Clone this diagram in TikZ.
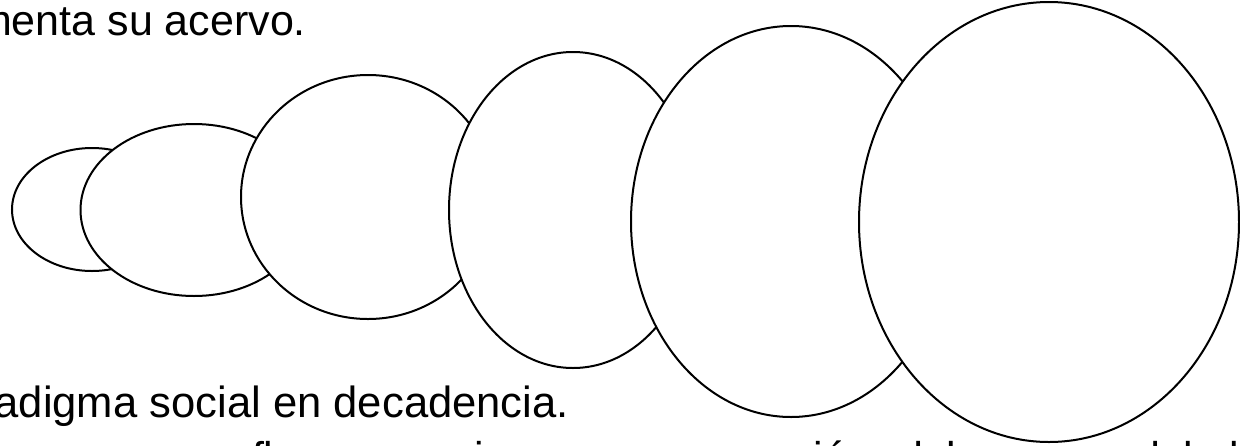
\documentclass[tikz,border=0pt]{standalone}
\usepackage{fontspec}
\setmainfont{Liberation Sans}
\usetikzlibrary{shapes.geometric}
\tikzset{
  bubble/.style={ellipse, draw=black, fill=white, line width=2pt, inner sep=0pt},
  slidetext/.style={inner sep=0pt, outer sep=0pt, font=\fontsize{43}{50}\selectfont, text=black},
  bigtext/.style={inner sep=0pt, outer sep=0pt, font=\fontsize{43.6}{50}\selectfont, text=black}
}
\begin{document}
\begin{tikzpicture}[x=1pt, y=-1pt]
\useasboundingbox (0,0) rectangle (1240,445);
\clip (0,0) rectangle (1240,445);
\fill[white] (0,0) rectangle (1240,445);
% texts
\node[slidetext, anchor=base east] (t1) at (306,35) {aumenta su acervo.};
\node[bigtext, anchor=base east] (t2) at (569,417) {paradigma social en decadencia.};
\node[slidetext, anchor=base west] (t3a) at (252,472) {fluye};
\node[slidetext, anchor=base west] (t3b) at (439,472) {mi};
\node[slidetext, anchor=base west] (t3c) at (792,472) {ción};
\node[slidetext, anchor=base west] (t3d) at (899,472) {del};
\node[slidetext, anchor=base west] (t3e) at (1136,472) {del alba};
% bubbles
\node[bubble, minimum width=160pt, minimum height=123pt] (e1) at (92,209.5) {};
\node[bubble, minimum width=227pt, minimum height=172pt] (e2) at (194,210) {};
\node[bubble, minimum width=254pt, minimum height=244pt] (e3) at (368,197) {};
\node[bubble, minimum width=248pt, minimum height=316pt] (e4) at (573,210) {};
\node[bubble, minimum width=320pt, minimum height=391pt] (e5) at (791,221.5) {};
\node[bubble, minimum width=380pt, minimum height=440pt] (e6) at (1049,222) {};
\end{tikzpicture}
\end{document}
